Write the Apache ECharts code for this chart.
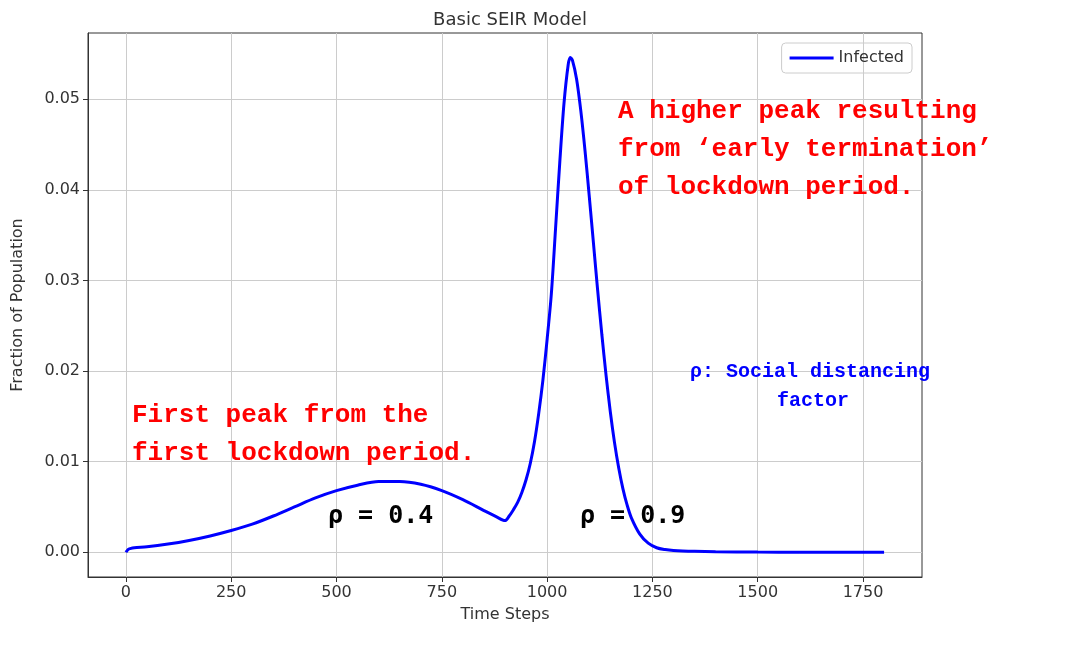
<!DOCTYPE html>
<html><head><meta charset="utf-8">
<script src="https://cdn.jsdelivr.net/npm/echarts@6/dist/echarts.min.js"></script>
<style>html,body{margin:0;padding:0;background:#fff}#c{width:1065px;height:645px}</style>
</head><body><div id="c"></div>
<script>
const steps = [0,5,10,20,50,100,150,200,250,300,350,400,450,500,550,600,650,700,750,800,850,880,900,910,920,930,940,950,960,970,980,990,1000,1010,1020,1030,1040,1050,1055,1060,1070,1080,1090,1100,1110,1120,1130,1140,1150,1160,1170,1180,1190,1200,1220,1240,1260,1280,1300,1350,1400,1500,1600,1700,1800];
const infected = [0,0.0003,0.0004,0.0005,0.0006,0.0009,0.0013,0.0018,0.0024,0.0031,0.0040,0.0050,0.0060,0.0068,0.0074,0.0078,0.0078,0.0075,0.0068,0.0058,0.0046,0.0039,0.0035,0.0040,0.0047,0.0055,0.0066,0.0080,0.0098,0.0122,0.0153,0.0190,0.0235,0.0285,0.0357,0.0430,0.0495,0.0538,0.0546,0.0543,0.0522,0.0487,0.0443,0.0393,0.0341,0.0289,0.0240,0.0195,0.0155,0.0121,0.0093,0.0070,0.0052,0.0038,0.0020,0.0010,0.0005,0.0003,0.0002,0.0001,0.00005,0.00002,0.00001,0,0];
const xTicks = [0,250,500,750,1000,1250,1500,1750];
const yTicks = [0,0.01,0.02,0.03,0.04,0.05];
const data = steps.map((s,i)=>[s,infected[i]]);
const c = echarts.init(document.getElementById('c'));
const ax = {color:'#333',fontSize:16,fontFamily:'DejaVu Sans'};
c.setOption({
 animation:false,
 title:{text:'Basic SEIR Model',left:505,top:6,textAlign:'center',textStyle:{fontSize:18,fontWeight:'normal',color:'#333',fontFamily:'DejaVu Sans'}},
 grid:{left:88,right:143,top:33,bottom:68,show:true,borderColor:'#333',borderWidth:1},
 legend:{right:153,top:43,itemWidth:44,itemHeight:3,data:[{name:'Infected',icon:'rect'}],textStyle:{fontSize:16,color:'#333',fontFamily:'DejaVu Sans'},borderColor:'#ccc',borderWidth:1,borderRadius:4,padding:[7,8]},
 xAxis:{type:'value',min:-90,max:1890,name:'Time Steps',nameLocation:'middle',nameGap:30,nameTextStyle:ax,
  axisLine:{show:true,onZero:false,lineStyle:{color:'#333'}},
  axisLabel:Object.assign({customValues:xTicks,formatter:v=>String(v),hideOverlap:false},ax),
  axisTick:{show:true,customValues:xTicks,lineStyle:{color:'#333'}},
  splitLine:{show:true,lineStyle:{color:'#ccc'}}},
 yAxis:{type:'value',min:-0.00273,max:0.0573,name:'Fraction of Population',nameLocation:'middle',nameGap:62,nameTextStyle:ax,
  axisLine:{show:true,onZero:false,lineStyle:{color:'#333'}},
  axisLabel:Object.assign({customValues:yTicks,formatter:v=>v.toFixed(2)},ax),
  axisTick:{show:true,customValues:yTicks,lineStyle:{color:'#333'}},
  splitLine:{show:true,lineStyle:{color:'#ccc'}}},
 series:[{name:'Infected',type:'line',data:data,smooth:0.3,showSymbol:false,lineStyle:{color:'#0000ff',width:3},itemStyle:{color:'#0000ff'}}],
 graphic:[
  {type:'text',z:100,left:618,top:92,style:{text:'A higher peak resulting\nfrom ‘early termination’\nof lockdown period.',fill:'#ff0000',font:'bold 26px "Liberation Mono"',lineHeight:38}},
  {type:'text',z:100,left:132,top:396,style:{text:'First peak from the\nfirst lockdown period.',fill:'#ff0000',font:'bold 26px "Liberation Mono"',lineHeight:38}},
  {type:'text',z:100,left:690,top:362,style:{text:'ρ: Social distancing',fill:'#0000ff',font:'bold 20px "Liberation Mono"'}},
  {type:'text',z:100,left:777,top:391,style:{text:'factor',fill:'#0000ff',font:'bold 20px "Liberation Mono"'}},
  {type:'text',z:100,left:328,top:504,style:{text:'ρ = 0.4',fill:'#000',font:'bold 25px "DejaVu Sans Mono"'}},
  {type:'text',z:100,left:580,top:504,style:{text:'ρ = 0.9',fill:'#000',font:'bold 25px "DejaVu Sans Mono"'}}
 ]
});
</script></body></html>
